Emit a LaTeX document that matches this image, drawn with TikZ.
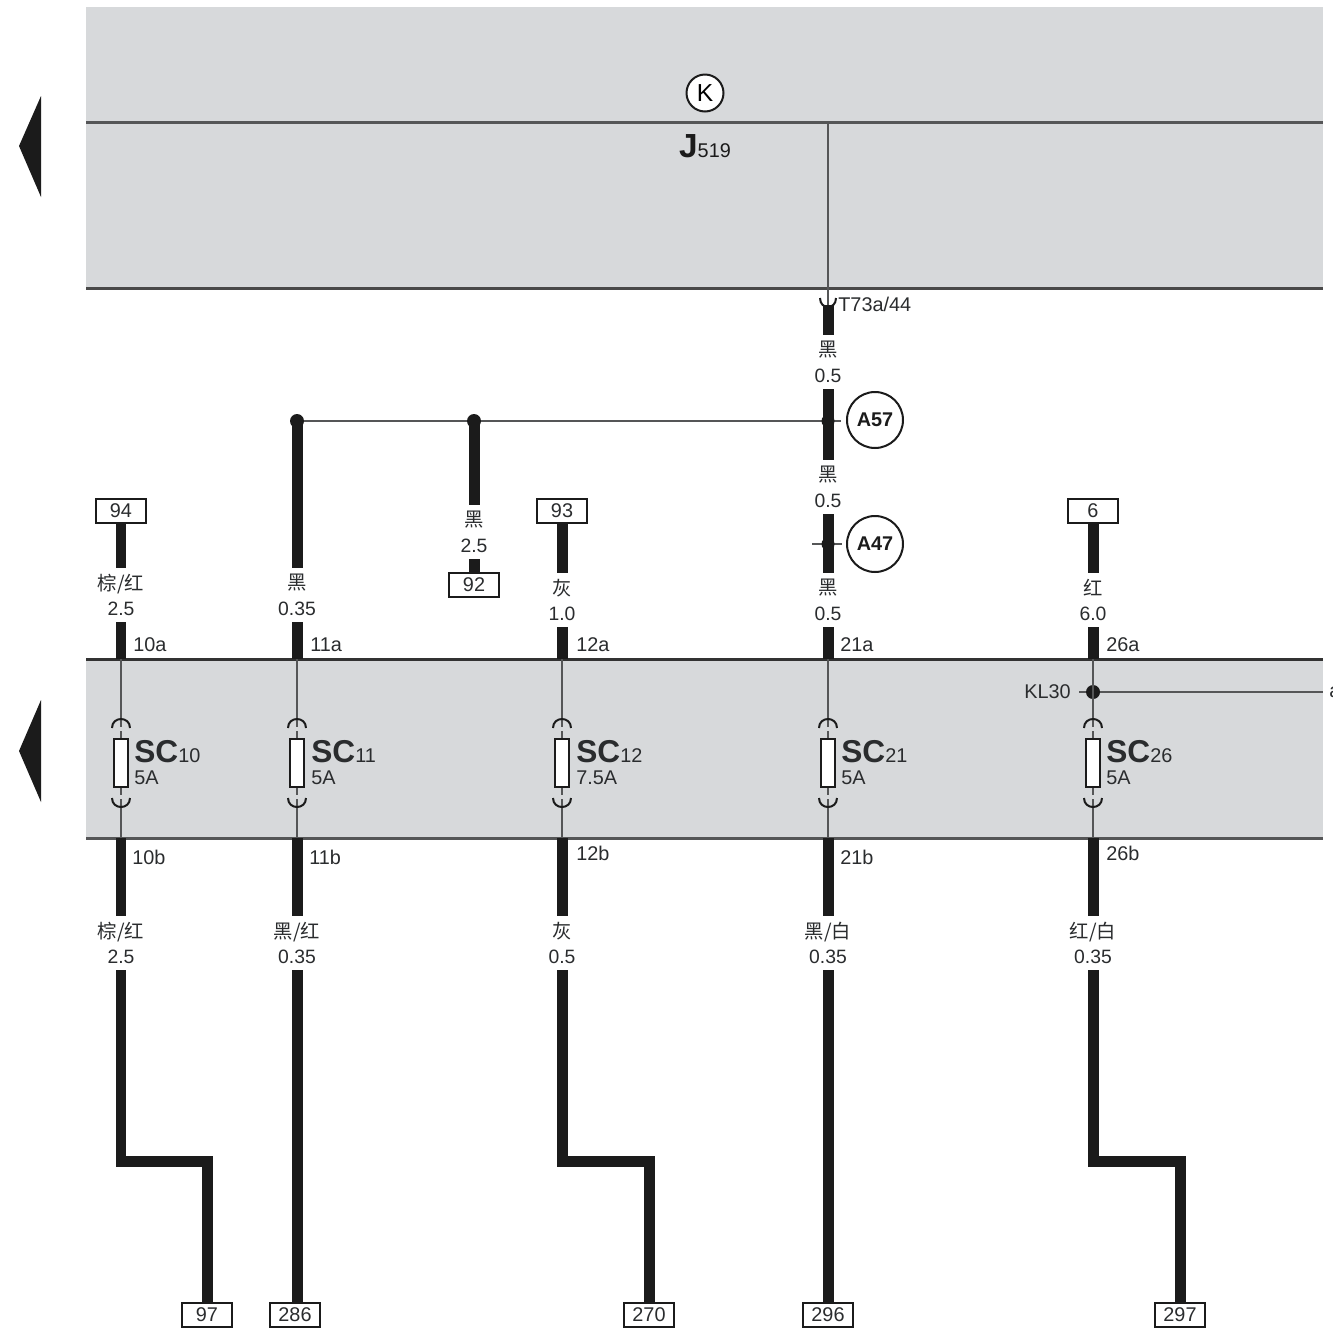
\documentclass[tikz,border=0pt]{standalone}
\usepackage{fontspec}
\setmainfont{Liberation Sans}
\newfontfamily\cjk{Noto Sans CJK SC}
\usepackage{tikz}
\definecolor{panelgrey}{HTML}{D7D9DB}
\definecolor{thingrey}{HTML}{555657}
\definecolor{inkblack}{HTML}{1B1B1B}
\definecolor{textgrey}{HTML}{2A2C2E}
\tikzset{
  wire/.style={draw=inkblack, line width=0.22cm},
  thinwire/.style={draw=thingrey, line width=0.05cm},
  edgeline/.style={draw=#1, line width=0.06cm},
  termbox/.style={draw=inkblack, line width=0.03cm, fill=white, minimum width=1cm, minimum height=0.48cm,
    inner sep=0pt, text=textgrey, font=\fontsize{11.3}{12}\selectfont},
  wirelabel/.style={fill=white, inner sep=0pt, minimum width=0.6cm, minimum height=1.08cm, align=center,
    text=textgrey, font=\fontsize{11}{14.7}\selectfont},
  pinlabel/.style={anchor=west, inner sep=0pt, text=textgrey, font=\fontsize{11.3}{12}\selectfont},
  fusename/.style={anchor=west, inner sep=0pt, text=textgrey, font=\fontsize{18}{20}\bfseries\selectfont},
  ampslabel/.style={anchor=west, inner sep=0pt, text=textgrey, font=\fontsize{11.3}{12}\selectfont},
  location/.style={circle, draw=inkblack, line width=0.04cm, fill=white, minimum size=1.12cm, inner sep=0pt,
    text=inkblack, font=\fontsize{11.3}{12}\bfseries\selectfont},
  joint/.style={circle, fill=inkblack, minimum size=0.28cm, inner sep=0pt},
  fuse/.pic={
    \draw[draw=panelgrey, line width=0.08cm] (0,-36) -- (0,-32);
    \draw[draw=panelgrey, line width=0.08cm] (0,32) -- (0,36);
    \draw[draw=inkblack, line width=0.04cm] (-9,-35) .. controls (-9,-47) and (9,-47) .. (9,-35);
    \draw[draw=inkblack, line width=0.04cm] (-9,35) .. controls (-9,47) and (9,47) .. (9,35);
    \draw[draw=inkblack, line width=0.04cm, fill=white] (-7,-24) rectangle (7,24);
  }
}
\begin{document}
\begin{tikzpicture}[x=0.02cm, y=-0.02cm]
  \useasboundingbox (0,0) rectangle (1333,1329);
  % Panels
  \fill[panelgrey] (86,7) rectangle (1323,289);
  \fill[panelgrey] (86,659) rectangle (1323,838);
  \draw[edgeline=thingrey] (86,122) -- (1323,122);
  \draw[edgeline=inkblack!80] (86,288) -- (1323,288);
  \draw[edgeline=inkblack!90] (86,659) -- (1323,659);
  \draw[edgeline=thingrey] (86,838) -- (1323,838);
  % Side arrows
  \fill[inkblack] (19,146) -- (41,96) -- (41,197) -- cycle;
  \fill[inkblack] (19,751) -- (41,700) -- (41,802) -- cycle;
  % Control unit
  \node[circle, draw=inkblack, line width=0.04cm, fill=white, minimum size=0.74cm, inner sep=0pt,
    font=\fontsize{14}{15}\selectfont] (ksym) at (705,93) {K};
  \node[inner sep=0pt, text=inkblack] (junit) at (705,146)
    {\fontsize{19}{21}\bfseries\selectfont J\fontsize{11.3}{12}\mdseries\selectfont 519};
  % Terminal boxes
  \node[termbox] (box94) at (121,511) {94};
  \node[termbox] (box93) at (562,511) {93};
  \node[termbox] (box6) at (1093,511) {6};
  \node[termbox] (box92) at (474,585) {92};
  \node[termbox] (box97) at (207,1315) {97};
  \node[termbox] (box286) at (295,1315) {286};
  \node[termbox] (box270) at (649,1315) {270};
  \node[termbox] (box296) at (828,1315) {296};
  \node[termbox] (box297) at (1180,1315) {297};
  % Points on the panels
  \coordinate (top10) at (121,659);
  \coordinate (top11) at (297,659);
  \coordinate (top12) at (562,659);
  \coordinate (top21) at (828,659);
  \coordinate (top26) at (1093,659);
  \coordinate (bot10) at (121,838);
  \coordinate (bot11) at (297,838);
  \coordinate (bot12) at (562,838);
  \coordinate (bot21) at (828,838);
  \coordinate (bot26) at (1093,838);
  \coordinate (bend10) at (121,1161);
  \coordinate (bend12) at (562,1161);
  \coordinate (bend26) at (1093,1161);
  \coordinate (busJ) at (828,122);
  \coordinate (plugJ) at (828,305);
  \coordinate (endA57) at (841,421);
  \coordinate (endL) at (812,544);
  \coordinate (endR) at (842,544);
  \coordinate (stubKL) at (1079,692);
  \coordinate (endKL) at (1323,692);
  \node[joint] (dot11) at (297,421) {};
  \node[joint] (dot92) at (474,421) {};
  \node[joint] (dotKL) at (1093,692) {};
  % Thick wires
  \draw[wire] (box94) -- (top10);
  \draw[wire] (dot11.center) -- (top11);
  \draw[wire] (dot92.center) -- (box92);
  \draw[wire] (box93) -- (top12);
  \draw[wire] (plugJ) -- (top21);
  \draw[wire] (box6) -- (top26);
  \draw[wire, line join=miter] (bot10) -- (bend10) -| (box97.north);
  \draw[wire] (bot11) -- (box286.north -| bot11);
  \draw[wire, line join=miter] (bot12) -- (bend12) -| (box270.north);
  \draw[wire] (bot21) -- (box296);
  \draw[wire, line join=miter] (bot26) -- (bend26) -| (box297.north);
  % Thin wires
  \draw[thinwire] (busJ) -- (plugJ);
  \draw[thinwire] (dot11) -- (dot92) -- (endA57);
  \draw[thinwire] (endL) -- (endR);
  \node[joint, minimum size=0.26cm] (dotA57) at (828,421) {};
  \node[joint, minimum size=0.26cm] (dotA47) at (828,544) {};
  \draw[thinwire] (top10) -- (bot10);
  \draw[thinwire] (top11) -- (bot11);
  \draw[thinwire] (top12) -- (bot12);
  \draw[thinwire] (top21) -- (bot21);
  \draw[thinwire] (top26) -- (bot26);
  \draw[thinwire] (stubKL) -- (dotKL) -- (endKL);
  % Plug
  \draw[draw=inkblack, line width=0.04cm] (820,298) .. controls (820,310) and (836,310) .. (836,298);
  \node[pinlabel] (t73) at (838,304) {T73a/44};
  % Locations
  \node[location] (a57) at (875,420) {A57};
  \node[location] (a47) at (875,544) {A47};
  % Wire labels
  \node[wirelabel] (lab10a) at (121,595) {{\cjk 棕/红}\\2.5};
  \node[wirelabel] (lab11a) at (297,595) {{\cjk 黑}\\0.35};
  \node[wirelabel] (lab92) at (474,532) {{\cjk 黑}\\2.5};
  \node[wirelabel] (lab12a) at (562,600) {{\cjk 灰}\\1.0};
  \node[wirelabel] (lab21c) at (828,362) {{\cjk 黑}\\0.5};
  \node[wirelabel] (lab21b) at (828,487) {{\cjk 黑}\\0.5};
  \node[wirelabel] (lab21a) at (828,600) {{\cjk 黑}\\0.5};
  \node[wirelabel] (lab26a) at (1093,600) {{\cjk 红}\\6.0};
  \node[wirelabel] (lab10b) at (121,943) {{\cjk 棕/红}\\2.5};
  \node[wirelabel] (lab11b) at (297,943) {{\cjk 黑/红}\\0.35};
  \node[wirelabel] (lab12b) at (562,943) {{\cjk 灰}\\0.5};
  \node[wirelabel] (lab21d) at (828,943) {{\cjk 黑/白}\\0.35};
  \node[wirelabel] (lab26b) at (1093,943) {{\cjk 红/白}\\0.35};
  % Pin names
  \node[pinlabel] (pin10a) at (133,645) {10a};
  \node[pinlabel] (pin11a) at (310,645) {11a};
  \node[pinlabel] (pin12a) at (576,645) {12a};
  \node[pinlabel] (pin21a) at (840,645) {21a};
  \node[pinlabel] (pin26a) at (1106,645) {26a};
  \node[pinlabel] (pin10b) at (132,857) {10b};
  \node[pinlabel] (pin11b) at (309,857) {11b};
  \node[pinlabel] (pin12b) at (576,853) {12b};
  \node[pinlabel] (pin21b) at (840,857) {21b};
  \node[pinlabel] (pin26b) at (1106,853) {26b};
  \node[pinlabel, anchor=east] (kl30) at (1071,692) {KL30};
  \node[pinlabel] (cutoff) at (1329,692) {a};
  % Fuses
  \pic at (121,763) {fuse};
  \pic at (297,763) {fuse};
  \pic at (562,763) {fuse};
  \pic at (828,763) {fuse};
  \pic at (1093,763) {fuse};
  \node[fusename] (sc10) at (134,752) {SC\fontsize{11.3}{12}\mdseries\selectfont 10};
  \node[fusename] (sc11) at (311,752) {SC\fontsize{11.3}{12}\mdseries\selectfont 11};
  \node[fusename] (sc12) at (576,752) {SC\fontsize{11.3}{12}\mdseries\selectfont 12};
  \node[fusename] (sc21) at (841,752) {SC\fontsize{11.3}{12}\mdseries\selectfont 21};
  \node[fusename] (sc26) at (1106,752) {SC\fontsize{11.3}{12}\mdseries\selectfont 26};
  \node[ampslabel] (amp10) at (134,778) {5A};
  \node[ampslabel] (amp11) at (311,778) {5A};
  \node[ampslabel] (amp12) at (576,778) {7.5A};
  \node[ampslabel] (amp21) at (841,778) {5A};
  \node[ampslabel] (amp26) at (1106,778) {5A};
\end{tikzpicture}
\end{document}
